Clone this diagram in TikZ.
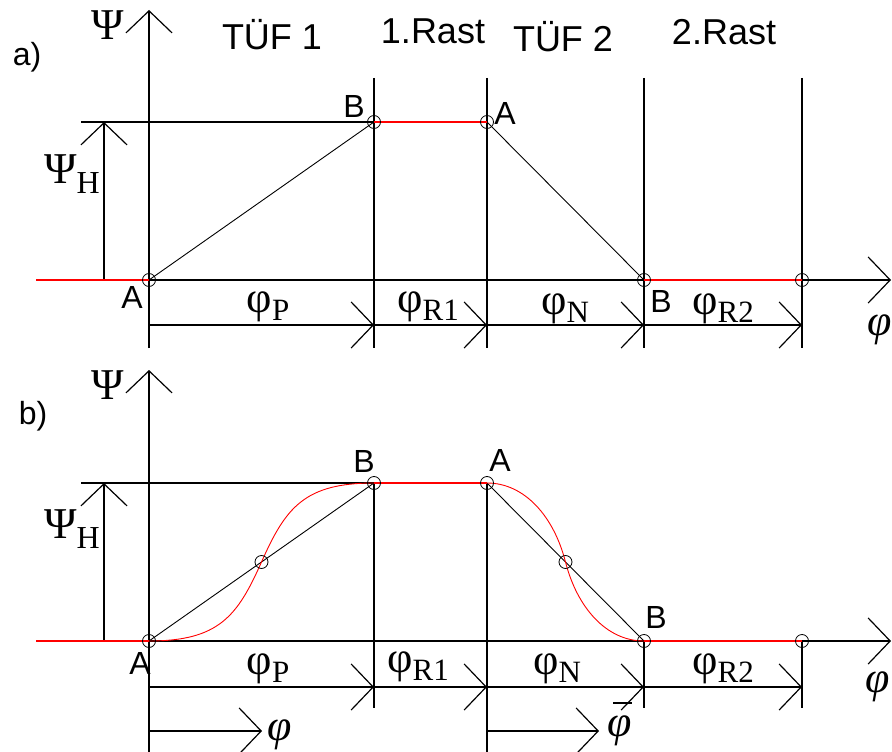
\documentclass[tikz,border=0pt]{standalone}
\usepackage{fontspec}
\setmainfont{Liberation Sans}
\newfontfamily\gr{Liberation Serif}
\usetikzlibrary{arrows.meta,calc}
\newcommand\phsub[1]{φ\raisebox{-8pt}{\fontsize{31}{31}\selectfont #1}}
\newcommand\psih{Ψ\raisebox{-10pt}{\fontsize{32}{32}\selectfont H}}
\newcommand\phbar{\makebox[0pt][l]{\hspace{0.12em}\raisebox{0.74em}{\rule{0.42em}{1.3pt}}}φ}
\begin{document}
\begin{tikzpicture}[x=1pt,y=-1pt,
  ln/.style={line width=1.2pt},
  rd/.style={red, line width=1.1pt},
  bar/.style={-{Straight Barb[length=22pt,width=46pt]}, line width=1.2pt},
  pt/.style={circle, draw, line width=0.8pt, minimum size=13pt, inner sep=0pt},
  lab/.style={font=\fontsize{32}{32}\selectfont, inner sep=0pt},
  ttl/.style={font=\fontsize{36}{36}\selectfont, inner sep=0pt},
  gk/.style={font=\gr\fontsize{44}{44}\selectfont, inner sep=0pt},
  gki/.style={font=\gr\itshape\fontsize{44}{44}\selectfont, inner sep=0pt},
]
\useasboundingbox (0,0) rectangle (892,752);

% ---------------- panel a ----------------
\coordinate (aA) at (149,280);
\coordinate (aB) at (374,122);
\coordinate (aA2) at (487,122);
\coordinate (aB2) at (644,280);
\coordinate (aE) at (802,280);

\draw[bar] (149,348) -- (149,10);
\draw[bar] (aA) -- (891,280);
\draw[ln] (81,122) -- (aB);
\foreach \x in {374,487,644,802} \draw[ln] (\x,78) -- (\x,348);
\draw[bar] (104,280) -- (104,122);
\draw[bar] (149,325) -- (374,325);
\draw[bar] (374,325) -- (487,325);
\draw[bar] (487,325) -- (644,325);
\draw[bar] (644,325) -- (802,325);
\draw[line width=0.9pt] (aA) -- (aB);
\draw[line width=0.9pt] (aA2) -- (aB2);
\draw[rd] (36,280) -- (aA);
\draw[rd] (aB) -- (aA2);
\draw[rd] (aB2) -- (aE);
\foreach \p in {aA,aB,aA2,aB2,aE} \node[pt] at (\p) {};

\node[gk] (psia) at (108,25) {Ψ};
\node[lab] (la) at (27,57) {a)};
\node[ttl] (t1) at (272,35) {TÜF 1};
\node[ttl] (t2) at (433,31) {1.Rast};
\node[ttl] (t3) at (563,37) {TÜF 2};
\node[ttl] (t4) at (724,32) {2.Rast};
\node[lab] (lbB) at (354,106) {B};
\node[lab] (lbA2) at (505,113) {A};
\node[lab] (lbA) at (132,297) {A};
\node[lab] (lbB2) at (661,301) {B};
\node[gk] (psiHa) at (72,174) {\psih};
\node[gk] (pPa) at (268,307) {\phsub{P}};
\node[gk] (pR1a) at (428,307) {\phsub{R1}};
\node[gk] (pNa) at (565,309) {\phsub{N}};
\node[gk] (pR2a) at (723,309) {\phsub{R2}};
\node[gki] (phia) at (880,330) {φ};

% ---------------- panel b ----------------
\coordinate (bA) at (149,641);
\coordinate (bB) at (374,483);
\coordinate (bA2) at (487,483);
\coordinate (bB2) at (644,641);
\coordinate (bE) at (802,641);
\coordinate (bM1) at ($(bA)!0.5!(bB)$);
\coordinate (bM2) at ($(bA2)!0.5!(bB2)$);

\draw[bar] (149,752) -- (149,370);
\draw[bar] (bA) -- (891,641);
\draw[ln] (81,483) -- (bB);
\draw[ln] (374,483) -- (374,708);
\draw[ln] (487,483) -- (487,752);
\draw[ln] (644,641) -- (644,708);
\draw[ln] (802,641) -- (802,708);
\draw[bar] (104,641) -- (104,483);
\draw[bar] (149,687) -- (374,687);
\draw[bar] (374,687) -- (487,687);
\draw[bar] (487,687) -- (644,687);
\draw[bar] (644,687) -- (802,687);
\draw[bar] (149,731) -- (262,731);
\draw[bar] (487,731) -- (599,731);
\draw[line width=0.9pt] (bA) -- (bB);
\draw[line width=0.9pt] (bA2) -- (bB2);
\draw[rd] (36,641) -- (bA);
\draw[rd] (bB) -- (bA2);
\draw[rd] (bB2) -- (bE);
\draw[red, line width=0.9pt] (bA) .. controls (219,641) and (237.5,616) .. (bM1)
  .. controls (285.5,508) and (304,483) .. (bB);
\draw[red, line width=0.9pt] (bA2) .. controls (525,483) and (554,517) .. (bM2)
  .. controls (577,607) and (606,641) .. (bB2);
\foreach \p in {bA,bB,bA2,bB2,bE,bM1,bM2} \node[pt] at (\p) {};

\node[gk] (psib) at (108,385) {Ψ};
\node[lab] (lb) at (33,416) {b)};
\node[lab] (lbbB) at (364,461) {B};
\node[lab] (lbbA2) at (500,460) {A};
\node[lab] (lbbB2) at (656,617) {B};
\node[lab] (lbbA) at (140,663) {A};
\node[gk] (psiHb) at (72,529) {\psih};
\node[gk] (pPb) at (268,669) {\phsub{P}};
\node[gk] (pR1b) at (418,667) {\phsub{R1}};
\node[gk] (pNb) at (557,669) {\phsub{N}};
\node[gk] (pR2b) at (723,669) {\phsub{R2}};
\node[gki] (phib) at (878,687) {φ};
\node[gki] (phic) at (280,735) {φ};
\node[gki] (phid) at (620,724) {\phbar};
\end{tikzpicture}
\end{document}
